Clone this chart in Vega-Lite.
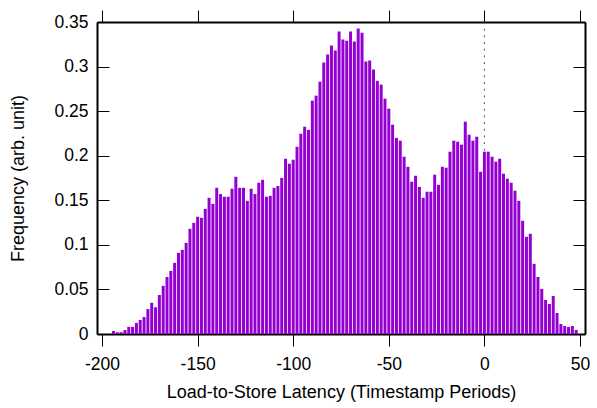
{
  "$schema": "https://vega.github.io/schema/vega-lite/v6.json",
  "width": 488,
  "height": 312,
  "autosize": "none",
  "padding": {"left": 97, "top": 22, "right": 12, "bottom": 74},
  "config": {
    "view": {"stroke": null},
    "font": "Liberation Sans",
    "axis": {"grid": false, "labelColor": "#000", "titleColor": "#000", "tickColor": "#000", "domainColor": "#000", "domainWidth": 2, "tickWidth": 1, "labelFontSize": 17.5, "titleFontSize": 18, "titleFontWeight": "normal", "zindex": 1, "labelFlush": false, "labelOverlap": false}
  },
  "data": {"values": [
    {"x": -194, "f": 0.0034}, {"x": -192, "f": 0.002}, {"x": -190, "f": 0.002}, {"x": -188, "f": 0.0045},
    {"x": -186, "f": 0.008}, {"x": -184, "f": 0.008}, {"x": -182, "f": 0.0124}, {"x": -180, "f": 0.0157},
    {"x": -178, "f": 0.019}, {"x": -176, "f": 0.028}, {"x": -174, "f": 0.035}, {"x": -172, "f": 0.030},
    {"x": -170, "f": 0.0438}, {"x": -168, "f": 0.054}, {"x": -166, "f": 0.064}, {"x": -164, "f": 0.0708},
    {"x": -162, "f": 0.0798}, {"x": -160, "f": 0.091}, {"x": -158, "f": 0.0944}, {"x": -156, "f": 0.1022},
    {"x": -154, "f": 0.118}, {"x": -152, "f": 0.1247}, {"x": -150, "f": 0.1315}, {"x": -148, "f": 0.1303},
    {"x": -146, "f": 0.1404}, {"x": -144, "f": 0.1528}, {"x": -142, "f": 0.146}, {"x": -140, "f": 0.164},
    {"x": -138, "f": 0.157}, {"x": -136, "f": 0.154}, {"x": -134, "f": 0.154}, {"x": -132, "f": 0.163},
    {"x": -130, "f": 0.1764}, {"x": -128, "f": 0.164}, {"x": -126, "f": 0.164}, {"x": -124, "f": 0.1494},
    {"x": -122, "f": 0.163}, {"x": -120, "f": 0.157}, {"x": -118, "f": 0.1697}, {"x": -116, "f": 0.173},
    {"x": -114, "f": 0.154}, {"x": -112, "f": 0.155}, {"x": -110, "f": 0.164}, {"x": -108, "f": 0.166},
    {"x": -106, "f": 0.175}, {"x": -104, "f": 0.1966}, {"x": -102, "f": 0.191}, {"x": -100, "f": 0.1955},
    {"x": -98, "f": 0.210}, {"x": -96, "f": 0.2247}, {"x": -94, "f": 0.2326}, {"x": -92, "f": 0.229},
    {"x": -90, "f": 0.2618}, {"x": -88, "f": 0.2674}, {"x": -86, "f": 0.283}, {"x": -84, "f": 0.3045},
    {"x": -82, "f": 0.3135}, {"x": -80, "f": 0.3236}, {"x": -78, "f": 0.318}, {"x": -76, "f": 0.3393},
    {"x": -74, "f": 0.3303}, {"x": -72, "f": 0.329}, {"x": -70, "f": 0.3393}, {"x": -68, "f": 0.328},
    {"x": -66, "f": 0.3427}, {"x": -64, "f": 0.338}, {"x": -62, "f": 0.3056}, {"x": -60, "f": 0.3067},
    {"x": -58, "f": 0.2966}, {"x": -56, "f": 0.284}, {"x": -54, "f": 0.2798}, {"x": -52, "f": 0.264},
    {"x": -50, "f": 0.2528}, {"x": -48, "f": 0.2348}, {"x": -46, "f": 0.220}, {"x": -44, "f": 0.2169},
    {"x": -42, "f": 0.1989}, {"x": -40, "f": 0.1876}, {"x": -38, "f": 0.1708}, {"x": -36, "f": 0.1775},
    {"x": -34, "f": 0.165}, {"x": -32, "f": 0.1528}, {"x": -30, "f": 0.1596}, {"x": -28, "f": 0.1596},
    {"x": -26, "f": 0.1787}, {"x": -24, "f": 0.1674}, {"x": -22, "f": 0.1876}, {"x": -20, "f": 0.1865},
    {"x": -18, "f": 0.2045}, {"x": -16, "f": 0.2169}, {"x": -14, "f": 0.2157}, {"x": -12, "f": 0.2124},
    {"x": -10, "f": 0.2382}, {"x": -8, "f": 0.2236}, {"x": -6, "f": 0.2169}, {"x": -4, "f": 0.2213},
    {"x": -2, "f": 0.182}, {"x": 0, "f": 0.2045}, {"x": 2, "f": 0.2045}, {"x": 4, "f": 0.1989},
    {"x": 6, "f": 0.1933}, {"x": 8, "f": 0.1966}, {"x": 10, "f": 0.1798}, {"x": 12, "f": 0.1742},
    {"x": 14, "f": 0.1697}, {"x": 16, "f": 0.1607}, {"x": 18, "f": 0.1494}, {"x": 20, "f": 0.127},
    {"x": 22, "f": 0.109}, {"x": 24, "f": 0.1124}, {"x": 26, "f": 0.0787}, {"x": 28, "f": 0.064},
    {"x": 30, "f": 0.0506}, {"x": 32, "f": 0.0382}, {"x": 34, "f": 0.0337}, {"x": 36, "f": 0.0427},
    {"x": 38, "f": 0.0236}, {"x": 40, "f": 0.0112}, {"x": 42, "f": 0.009}, {"x": 44, "f": 0.0079},
    {"x": 46, "f": 0.009}, {"x": 48, "f": 0.0045}
  ]},
  "layer": [
    {
      "data": {"values": [{}]},
      "mark": {"type": "rule", "color": "#555", "strokeDash": [2, 4.67], "strokeWidth": 1},
      "encoding": {
        "x": {"datum": 0, "type": "quantitative", "scale": {"domain": [-200, 50], "nice": false, "zero": false},
              "axis": {"orient": "top", "labels": false, "title": null, "tickSize": 12, "values": [-200, -150, -100, -50, 0, 50]}},
        "y": {"datum": 0.35, "type": "quantitative", "scale": {"domain": [0, 0.35], "nice": false},
              "axis": {"orient": "right", "labels": false, "title": null, "tickSize": -12, "values": [0, 0.05, 0.1, 0.15, 0.2, 0.25, 0.3, 0.35]}},
        "y2": {"datum": 0}
      }
    },
    {
      "mark": {"type": "bar", "color": "#9400D3", "width": 3},
      "encoding": {
        "x": {"field": "x", "type": "quantitative", "scale": {"domain": [-200, 50], "nice": false, "zero": false},
              "axis": {"orient": "bottom", "title": "Load-to-Store Latency (Timestamp Periods)", "tickSize": 12, "labelPadding": 9, "titlePadding": 11, "labelExpr": "'' + datum.value", "values": [-200, -150, -100, -50, 0, 50]}},
        "y": {"field": "f", "type": "quantitative", "scale": {"domain": [0, 0.35], "nice": false},
              "axis": {"orient": "left", "title": "Frequency (arb. unit)", "tickSize": -12, "labelPadding": 21, "titlePadding": 26, "format": "~g", "values": [0, 0.05, 0.1, 0.15, 0.2, 0.25, 0.3, 0.35]}}
      }
    }
  ],
  "resolve": {"axis": {"x": "independent", "y": "independent"}}
}
